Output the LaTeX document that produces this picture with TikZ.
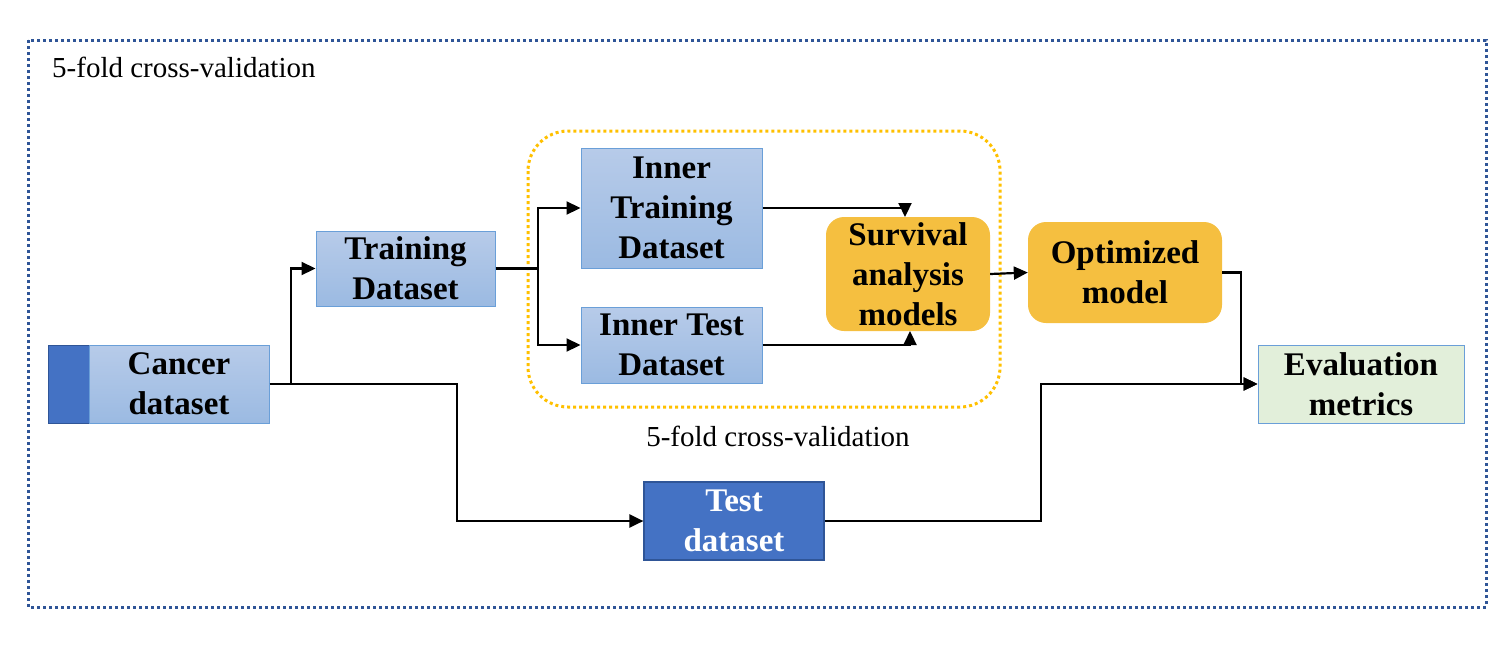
\documentclass[tikz,border=0pt]{standalone}
\usepackage{fontspec}
\setmainfont{Liberation Serif}
\usetikzlibrary{arrows.meta,calc}
\definecolor{lbtop}{HTML}{B7CBE9}
\definecolor{lbbot}{HTML}{9BBAE2}
\definecolor{lbborder}{HTML}{6A9FD8}
\definecolor{dblue}{HTML}{4472C4}
\definecolor{dbborder}{HTML}{2F5597}
\definecolor{orng}{HTML}{F5BF40}
\definecolor{ltgreen}{HTML}{E2EFDA}
\definecolor{frameblue}{HTML}{2F5597}
\definecolor{dotorange}{HTML}{FFC000}
\begin{document}
\begin{tikzpicture}[x=1pt,y=-1pt,
  boxtext/.style={font=\fontsize{33}{40}\selectfont\bfseries, align=center, inner sep=0pt},
  lbox/.style={boxtext, draw=lbborder, line width=1pt, top color=lbtop, bottom color=lbbot, rectangle},
  dbox/.style={boxtext, draw=dbborder, line width=1.2pt, fill=dblue, text=white},
  obox/.style={boxtext, fill=orng, rounded corners=18pt},
  gbox/.style={boxtext, draw=lbborder, line width=1pt, fill=ltgreen},
  conn/.style={line width=2.2pt, -{Triangle[length=14pt,width=13pt]}},
  plain/.style={line width=2.2pt},
  lbl/.style={font=\fontsize{29}{34}\selectfont, inner sep=0pt}
]
\useasboundingbox (0,0) rectangle (1506,656);
% frames
\draw[frameblue, line width=3pt, dash pattern=on 3pt off 3pt] (28,40) rectangle (1486,607);
\node[lbl, anchor=west] (outerlbl) at (52,67) {5-fold cross-validation};
\draw[dotorange, line width=3pt, dash pattern=on 3pt off 3pt, rounded corners=40pt] (528,131) rectangle (1000,407);
\node[lbl] (innerlbl) at (778,436) {5-fold cross-validation};
% nodes
\node[draw=dbborder, line width=1pt, fill=dblue, minimum width=41pt, minimum height=78pt, inner sep=0pt] (strip) at (68.5,384) {};
\node[lbox, minimum width=180pt, minimum height=78pt] (cancer) at (179,384) {Cancer\\dataset};
\node[lbox, minimum width=179pt, minimum height=75pt] (train) at (405.5,268.5) {Training\\Dataset};
\node[lbox, minimum width=181pt, minimum height=120pt] (itrain) at (671.5,208) {Inner\\Training\\Dataset};
\node[lbox, minimum width=181pt, minimum height=76pt] (itest) at (671.5,345) {Inner Test\\Dataset};
\node[obox, minimum width=164pt, minimum height=114pt] (surv) at (908,274) {Survival\\analysis\\models};
\node[obox, minimum width=194pt, minimum height=101pt] (opt) at (1125,272.5) {Optimized\\model};
\node[gbox, minimum width=206pt, minimum height=78pt] (eval) at (1361,384) {Evaluation\\metrics};
\node[dbox, minimum width=180pt, minimum height=78pt] (test) at (734,521) {Test\\dataset};
% helper coordinates
\coordinate (j1) at (291,384);
\coordinate (j2) at (538,268.5);
\coordinate (sa) at (905,217);
\coordinate (sb) at (910,331);
% connectors
\draw[plain] (cancer.east) -- (j1);
\draw[conn] (j1) |- (train.west);
\draw[conn] (j1) -| (457,521) -- (test.west);
\draw[plain] (train.east) -- (j2);
\draw[conn] (j2) |- (itrain.west);
\draw[conn] (j2) |- (itest.west);
\draw[conn] (itrain.east) -| (sa);
\draw[conn] (itest.east) -| (sb);
\draw[conn] (surv.east) -- (opt.west);
\draw[conn] (opt.east) -| (1241,384) -- (eval.west);
\draw[conn] (test.east) -| (1041,384) -- (eval.west);
\end{tikzpicture}
\end{document}
